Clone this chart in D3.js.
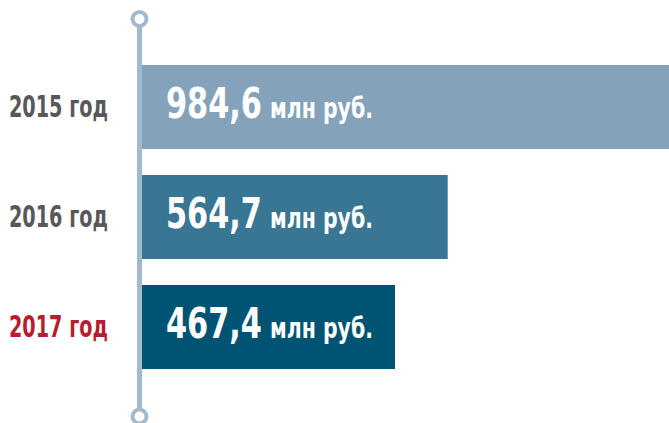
<!DOCTYPE html>
<html lang="ru">
<head>
  <meta charset="utf-8">
  <title>Расходы по годам</title>
  <script src="https://d3js.org/d3.v7.min.js"></script>
  <style>
    body { margin: 0; background: #fff; }
    svg { display: block; }
    text { font-family: "Liberation Sans Narrow", "DejaVu Sans Condensed", "Roboto", sans-serif; font-weight: bold; }
  </style>
</head>
<body>
  <svg id="chart"></svg>

  <script>
    // данные
    const years = ["2015 год", "2016 год", "2017 год"];
    const values = [984.6, 564.7, 467.4];
    const valueLabels = ["984,6", "564,7", "467,4"];
    const unit = "млн руб.";

    const width = 669, height = 423;
    const axisX = 139.5, barX0 = 142;

    const svg = d3.select("#chart")
        .attr("width", width)
        .attr("height", height);

    const x = d3.scaleLinear()
        .domain([0, d3.max(values)])
        .range([barX0, 675]);

    const y = d3.scaleBand()
        .domain(years)
        .range([65, 369])
        .paddingInner(0.236);

    const barColor = d3.scaleOrdinal()
        .domain(years)
        .range(["#84a3bb", "#387694", "#005372"]);

    const yearColor = d3.scaleOrdinal()
        .domain(years)
        .range(["#58585a", "#58585a", "#b71c2f"]);

    const rows = years.map((yr, i) => ({ year: yr, value: values[i], label: valueLabels[i] }));

    // сжимаем текст по ширине (узкий шрифт), чтобы рамка текста совпадала с видимой
    function squeeze(sel, x0, yFn, target) {
      sel.each(function(d) {
        const t = d3.select(this);
        const w = this.getComputedTextLength() || target;
        const k = Math.min(1, target / w);
        t.attr("transform", `translate(${x0},${yFn(d)}) scale(${k},1)`);
      });
    }

    // вертикальная ось с кружками
    svg.append("line")
        .attr("x1", axisX).attr("x2", axisX)
        .attr("y1", 26).attr("y2", 409)
        .attr("stroke", "#a2bacd")
        .attr("stroke-width", 5);

    svg.selectAll("circle.end")
      .data([19, 416.5])
      .join("circle")
        .attr("class", "end")
        .attr("cx", axisX)
        .attr("cy", d => d)
        .attr("r", 7)
        .attr("fill", "#fff")
        .attr("stroke", "#a2bacd")
        .attr("stroke-width", 4);

    // столбцы
    svg.append("g")
      .selectAll("rect")
      .data(rows)
      .join("rect")
        .attr("x", barX0)
        .attr("y", d => y(d.year))
        .attr("width", d => x(d.value) - barX0)
        .attr("height", y.bandwidth())
        .attr("fill", d => barColor(d.year));

    // подписи годов
    svg.append("g")
      .selectAll("text")
      .data(rows)
      .join("text")
        .attr("font-size", 30)
        .attr("fill", d => yearColor(d.year))
        .text(d => d.year)
        .call(squeeze, 9, d => y(d.year) + y.bandwidth() / 2 + 10, 99);

    // значения внутри столбцов
    const baseY = d => y(d.year) + y.bandwidth() / 2 + 11;

    svg.append("g")
      .selectAll("text")
      .data(rows)
      .join("text")
        .attr("fill", "#fff")
        .attr("font-size", 43)
        .text(d => d.label)
        .call(squeeze, 166, baseY, 96);

    svg.append("g")
      .selectAll("text")
      .data(rows)
      .join("text")
        .attr("fill", "#fff")
        .attr("font-size", 28)
        .text(unit)
        .call(squeeze, 270, baseY, 103);
  </script>
</body>
</html>
